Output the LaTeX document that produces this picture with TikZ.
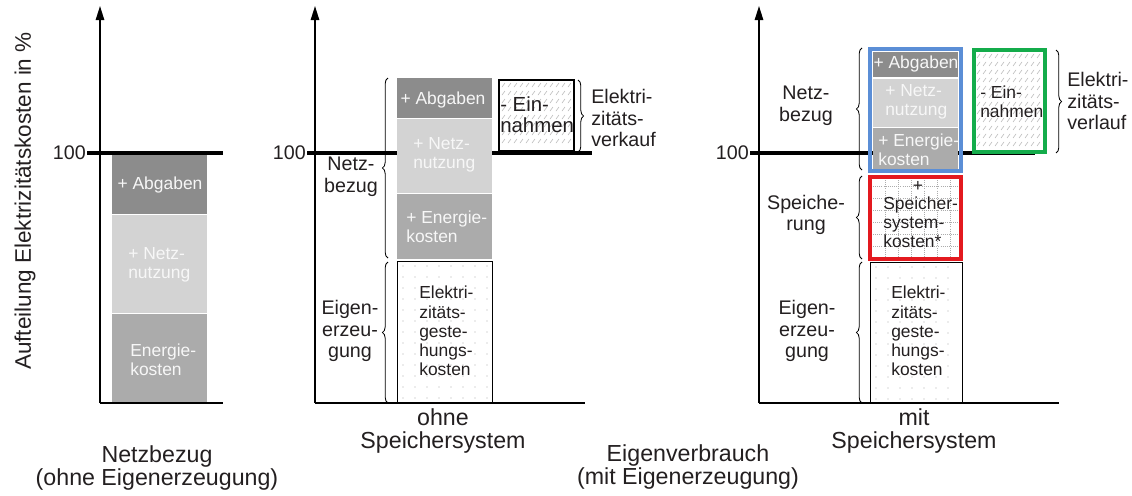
\documentclass[tikz,border=0pt]{standalone}
\usepackage{fontspec}
\setmainfont{Liberation Sans}
\usetikzlibrary{arrows.meta,decorations.pathreplacing}

\definecolor{abg}{HTML}{8C8C8C}
\definecolor{netz}{HTML}{D3D3D3}
\definecolor{energ}{HTML}{ABABAB}
\definecolor{txt}{HTML}{231F20}
\definecolor{blaurahmen}{HTML}{5B8ED6}
\definecolor{rotrahmen}{HTML}{E3191F}
\definecolor{gruenrahmen}{HTML}{14AC4B}

\tikzset{
  achse/.style={line width=1.1pt, -{Triangle[length=10pt,width=6pt]}},
  basis/.style={line width=0.9pt},
  hundert/.style={line width=2.2pt},
  untertitel/.style={text=txt, font=\fontsize{16.5}{16.3}\selectfont, align=center, inner sep=0pt},
  lbl/.style={text=txt, font=\fontsize{14}{15.3}\selectfont, align=center, inner sep=0pt},
  innen/.style={text=txt, font=\fontsize{12.4}{13.6}\selectfont, align=left, inner sep=0pt},
  hell/.style={innen, text=white!94!gray},
  klammer/.style={decorate, decoration={brace, amplitude=4pt}, line width=0.6pt},
  rahmen/.style={line width=2.8pt},
  punkt/.style={fill=gray!65},
  strich/.style={gray!55, line width=0.4pt},
  raster/.style={gray!65, densely dotted, line width=0.5pt},
}

\begin{document}
\begin{tikzpicture}[x=0.025cm, y=-0.025cm]
  \useasboundingbox (0,0) rectangle (1132,495);

  % --- Netzbezug (ohne Eigenerzeugung)
  \fill[abg] (112,154) rectangle (207,214);
  \fill[netz] (112,215) rectangle (207,313);
  \fill[energ] (112,314) rectangle (207,403);
  \draw[hundert] (87,153) -- (223,153);
  \draw[basis] (100,403) -- (223,403);
  \draw[achse] (100,403) -- (100,6);
  \node[lbl, anchor=east] (hundertA) at (86,153) {100};
  \node[hell] (abgA) at (160,185) {+ Abgaben};
  \node[hell, anchor=west] (netzA) at (128,265) {+ Netz-\\nutzung};
  \node[hell, anchor=west] (energA) at (130,360) {Energie-\\kosten};
  \node[untertitel, rotate=90, font=\fontsize{16}{16}\selectfont] (ylab) at (25,201) {Aufteilung Elektrizitätskosten in \%};
  \node[untertitel] (capA) at (157,468) {Netzbezug\\(ohne Eigenerzeugung)};

  % --- ohne Speichersystem
  \draw[hundert] (307,153) -- (592,153);
  \draw[basis] (315,403) -- (585,403);
  \draw[achse] (315,403) -- (315,6);
  \node[lbl, anchor=east] (hundertB) at (306,153) {100};
  \fill[abg] (397,78) rectangle (492,118);
  \fill[netz] (397,119) rectangle (492,193);
  \fill[energ] (397,194) rectangle (492,259);
  \foreach \x in {403,415,...,488}
    \foreach \y in {266,277,...,399}
      \fill[punkt] (\x,\y) circle (0.5pt);
  \draw[line width=0.6pt] (397,261) rectangle (492,403);
  \fill[white] (499,80) rectangle (574,151);
  \foreach \y in {87,95,...,150}
    \foreach \x in {502,508,...,568}
      \draw[strich] (\x,\y) -- ++(3,-4);
  \draw[line width=0.8pt] (499,80) rectangle (574,151);
  \node[hell] (abgB) at (443,100) {+ Abgaben};
  \node[hell, anchor=west] (netzB) at (413,155) {+ Netz-\\nutzung};
  \node[hell, anchor=west] (energB) at (406,227) {+ Energie-\\kosten};
  \node[innen, anchor=west] (eigenB) at (419,331) {Elektri-\\zitäts-\\geste-\\hungs-\\kosten};
  \node[innen, anchor=west, font=\fontsize{14.5}{15}\selectfont] (einB) at (500,115) {- Ein-\\nahmen};
  \draw[klammer] (388,258) -- (388,78);
  \draw[klammer] (388,403) -- (388,262);
  \draw[klammer] (578,80) -- (578,152);
  \node[lbl] (netzbezugB) at (351,177) {Netz-\\bezug};
  \node[lbl] (eigenerzB) at (350,331) {Eigen-\\erzeu-\\gung};
  \node[lbl, anchor=west, align=left] (verkaufB) at (591,118) {Elektri-\\zitäts-\\verkauf};
  \node[untertitel] (capB) at (443,431) {ohne\\Speichersystem};

  % --- mit Speichersystem
  \draw[hundert] (750,153) -- (1035,153);
  \draw[basis] (759,403) -- (1059,403);
  \draw[achse] (759,403) -- (759,6);
  \node[lbl, anchor=east] (hundertC) at (749,153) {100};
  \fill[abg] (873,52) rectangle (958,77);
  \fill[netz] (873,79) rectangle (958,127);
  \fill[energ] (873,128) rectangle (958,169);
  \draw[blaurahmen, rahmen] (870,49) rectangle (961,171);
  \foreach \x in {885,898,...,950}
    \draw[raster] (\x,180) -- (\x,256);
  \foreach \y in {186,198,...,254}
    \draw[raster] (873,\y) -- (958,\y);
  \draw[rotrahmen, rahmen] (870,177) rectangle (961,259);
  \foreach \x in {876,888,...,958}
    \foreach \y in {267,278,...,399}
      \fill[punkt] (\x,\y) circle (0.5pt);
  \draw[line width=0.6pt] (870,262) rectangle (962,403);
  \fill[white] (974,50) rectangle (1045,152);
  \foreach \y in {58,66,...,150}
    \foreach \x in {977,983,...,1039}
      \draw[strich] (\x,\y) -- ++(3,-4);
  \draw[gruenrahmen, rahmen] (974,50) rectangle (1045,152);
  \node[hell] (abgC) at (916,64) {+ Abgaben};
  \node[hell, anchor=west] (netzC) at (885,102) {+ Netz-\\nutzung};
  \node[hell, anchor=west] (energC) at (878,150) {+ Energie-\\kosten};
  \node[innen] (plusC) at (918,186) {+};
  \node[innen, anchor=west] (speicherC) at (883,222) {Speicher-\\system-\\kosten*};
  \node[innen, anchor=west] (eigenC) at (891,331) {Elektri-\\zitäts-\\geste-\\hungs-\\kosten};
  \node[innen, anchor=west] (einC) at (980,102) {- Ein-\\nahmen};
  \draw[klammer] (862,170) -- (862,48);
  \draw[klammer] (862,259) -- (862,176);
  \draw[klammer] (862,403) -- (862,262);
  \draw[klammer] (1056,50) -- (1056,153);
  \node[lbl] (netzbezugC) at (806,106) {Netz-\\bezug};
  \node[lbl] (speicherungC) at (806,215) {Speiche-\\rung};
  \node[lbl] (eigenerzC) at (807,331) {Eigen-\\erzeu-\\gung};
  \node[lbl, anchor=west, align=left] (verlaufC) at (1067,101) {Elektri-\\zitäts-\\verlauf};
  \node[untertitel] (capC) at (914,431) {mit\\Speichersystem};

  \node[untertitel] (capMitte) at (688,467) {Eigenverbrauch\\(mit Eigenerzeugung)};
\end{tikzpicture}
\end{document}
